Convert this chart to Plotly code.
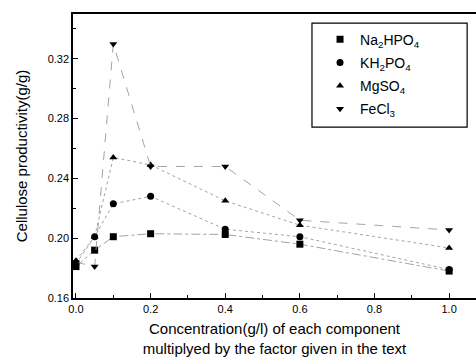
import plotly.graph_objects as go

x_vals = [0.0, 0.05, 0.1, 0.2, 0.4, 0.6, 1.0]
na2hpo4 = [0.181, 0.192, 0.201, 0.203, 0.2025, 0.196, 0.178]
kh2po4 = [0.183, 0.201, 0.223, 0.228, 0.206, 0.201, 0.179]
mgso4 = [0.185, 0.201, 0.254, 0.249, 0.225, 0.2087, 0.1935]
fecl3 = [0.184, 0.181, 0.330, 0.248, 0.248, 0.212, 0.2055]

names = ["Na<sub>2</sub>HPO<sub>4</sub>", "KH<sub>2</sub>PO<sub>4</sub>",
         "MgSO<sub>4</sub>", "FeCl<sub>3</sub>"]
series = [na2hpo4, kh2po4, mgso4, fecl3]
symbols = ["square", "circle", "triangle-up", "triangle-down"]
dashes = ["dashdot", "dot", "dot", "dash"]

x_ticks = [0.0, 0.2, 0.4, 0.6, 0.8, 1.0]
y_ticks = [0.16, 0.20, 0.24, 0.28, 0.32]

fig = go.Figure()
for i, (n, s, sym, d) in enumerate(zip(names, series, symbols, dashes)):
    fig.add_trace(go.Scatter(
        x=x_vals, y=s, name=n, mode="lines+markers", showlegend=False,
        line=dict(color="#999999", width=0.9, dash=d),
        marker=dict(symbol=sym, color="black", size=7),
    ))
    fig.add_trace(go.Scatter(
        x=[None], y=[None], name=n, mode="markers", legendgroup=f"g{i}",
        marker=dict(symbol=sym, color="black", size=7),
    ))

fig.add_shape(type="rect", xref="paper", yref="paper",
              x0=0.593, x1=0.978, y0=0.602, y1=0.968,
              line=dict(color="black", width=1.2), fillcolor="rgba(0,0,0,0)")

fig.update_layout(
    width=476, height=361,
    margin=dict(l=73, r=0, t=14, b=63),
    paper_bgcolor="white", plot_bgcolor="white",
    font=dict(family="Liberation Sans, Arial, sans-serif", color="black"),
    showlegend=True,
    legend=dict(x=0.613, y=0.966, xanchor="left", yanchor="top",
                borderwidth=0, bgcolor="rgba(0,0,0,0)",
                font=dict(size=14), tracegroupgap=2, itemwidth=30),
)
fig.update_xaxes(
    range=[-0.008, 1.072], tickvals=x_ticks,
    ticktext=[f"{v:.1f}" for v in x_ticks],
    ticks="inside", ticklen=5, tickcolor="black",
    minor=dict(dtick=0.1, ticks="inside", ticklen=3, tickcolor="black"),
    showline=True, linecolor="black", linewidth=1.5, mirror=True,
    showgrid=False, zeroline=False,
    tickfont=dict(size=11),
    title=dict(text="Concentration(g/l) of each component<br>multiplyed by the factor given in the text",
               font=dict(size=15), standoff=10),
)
fig.update_yaxes(
    range=[0.16, 0.35], tickvals=y_ticks,
    ticktext=[f"{v:.2f}" for v in y_ticks],
    ticks="inside", ticklen=5, tickcolor="black",
    minor=dict(dtick=0.02, ticks="inside", ticklen=3, tickcolor="black"),
    showline=True, linecolor="black", linewidth=1.5, mirror=False,
    showgrid=False, zeroline=False,
    tickfont=dict(size=11),
    title=dict(text="Cellulose productivity(g/g)", font=dict(size=15), standoff=16),
)

fig.write_html("out.html")
